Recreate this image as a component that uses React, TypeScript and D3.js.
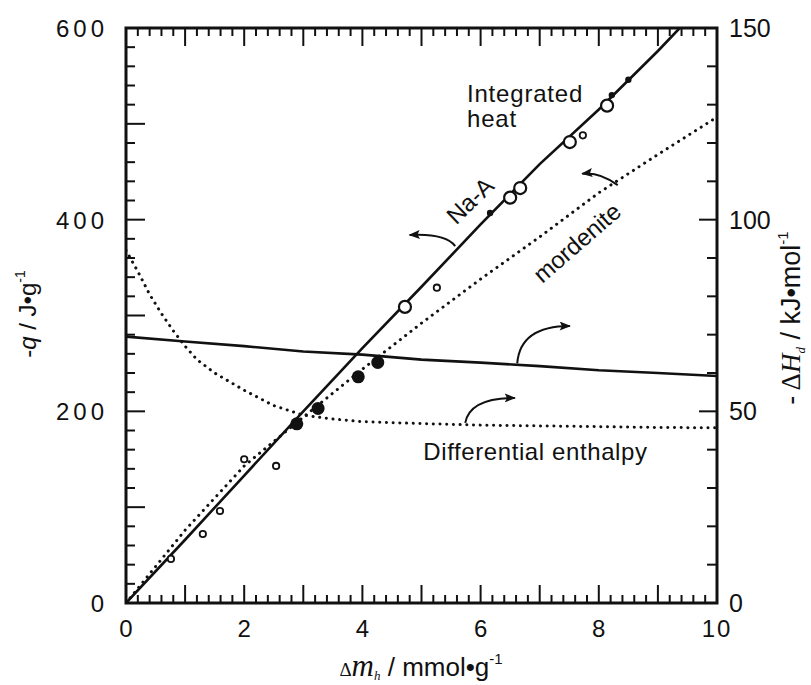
import React from 'react';
import * as d3 from 'd3';

// integrated heat, left axis (-q / J g-1)
const naAHeatX = [0, 1, 2, 3, 4, 5, 6, 7, 8, 9, 9.37];
const naAHeatY = [0, 66, 133, 200, 266, 330, 395, 458, 515, 576, 600];
const morHeatX = [0, 1, 2, 3, 4, 5, 6, 7, 8, 9, 10];
const morHeatY = [0, 76, 143, 194, 244, 292, 338, 382, 428, 468, 507];

// differential enthalpy, right axis (-dH / kJ mol-1)
const naADiffX = [0, 1, 2, 3, 4, 5, 6, 7, 8, 9, 10];
const naADiffY = [69.5, 68.2, 67, 65.6, 64.8, 63.5, 62.7, 61.8, 60.7, 60, 59.2];
const morDiffX = [0, 0.2, 0.4, 0.6, 0.8, 1, 1.2, 1.5, 2, 2.5, 3, 3.5, 4, 5, 6, 7, 8, 9, 10];
const morDiffY = [92, 86.5, 80.5, 75.5, 71, 67, 63.5, 60, 55.5, 51.5, 49, 48, 47.3, 46.8, 46.4, 46.2, 46, 45.8, 45.7];

// measured points
const naAOpenBig = [[4.72, 309], [6.5, 423], [6.67, 433], [7.51, 481], [8.14, 519]];
const naAFilledSmall = [[6.16, 407], [8.22, 530], [8.5, 546]];
const naAOpenSmall = [[5.26, 329], [7.73, 488]];
const morFilledBig = [[2.89, 187], [3.25, 203], [3.93, 236], [4.26, 251]];
const morOpenSmall = [[0.76, 46], [1.3, 72], [1.59, 96], [2.0, 150], [2.54, 143]];

// curved arrows [start, control, end] in x / left-axis units
const arrows = [
  [[5.57, 372.5], [5.4, 386], [4.8, 384]],
  [[8.32, 436], [8.02, 450], [7.72, 448]],
  [[6.62, 250], [6.67, 289], [7.51, 289]],
  [[5.74, 188], [5.82, 214], [6.58, 214]],
];

const xTicks = [0, 2, 4, 6, 8, 10];
const yTicks = [0, 200, 400, 600];
const y2Ticks = [0, 50, 100, 150];

const W = 811;
const H = 685;
const L = 126, R = 717, T = 28, B = 603;

export default function App() {
  const x = d3.scaleLinear().domain([0, 10]).range([L, R]);
  const y = d3.scaleLinear().domain([0, 600]).range([B, T]);
  const y2 = d3.scaleLinear().domain([0, 150]).range([B, T]);

  const lineL = (xs: number[], ys: number[]) =>
    d3.line<number>().x((d, i) => x(xs[i])).y((d) => y(d))(ys) || '';
  const lineR = (xs: number[], ys: number[]) =>
    d3.line<number>().x((d, i) => x(xs[i])).y((d) => y2(d))(ys) || '';

  const font = "'Liberation Sans', Arial, Helvetica, sans-serif";
  const serif = "'Liberation Serif', 'Times New Roman', serif";
  const dotted = { fill: 'none', stroke: '#111', strokeWidth: 3, strokeDasharray: '0.1 6.6', strokeLinecap: 'round' as const };

  const minorX = d3.range(0, 10.001, 0.2);
  const minorY = d3.range(0, 600.1, 20);
  const minorY2 = d3.range(0, 150.1, 10);
  const isInt = (v: number) => Math.abs(v - Math.round(v)) < 1e-6;

  return (
    <svg width={W} height={H} style={{ position: 'absolute', left: 0, top: 0, background: '#fff' }}>
      <defs>
        <marker id="ah" viewBox="0 0 10 8" refX="9" refY="4" markerWidth="12" markerHeight="9" markerUnits="userSpaceOnUse" orient="auto">
          <path d="M0,0 L10,4 L0,8 L2,4 z" fill="#111" />
        </marker>
        <clipPath id="clip">
          <rect x={L} y={T} width={R - L} height={B - T} />
        </clipPath>
      </defs>

      {/* ticks */}
      <g stroke="#111" strokeWidth={2}>
        {minorX.map((v, i) => {
          const len = isInt(v) ? 18 : 8;
          return (
            <g key={'x' + i}>
              <line x1={x(v)} x2={x(v)} y1={B} y2={B - len} />
              <line x1={x(v)} x2={x(v)} y1={T} y2={T + len} />
            </g>
          );
        })}
        {minorY.map((v, i) => {
          const len = v % 100 === 0 ? 19 : 9;
          return <line key={'y' + i} x1={L} x2={L + len} y1={y(v)} y2={y(v)} />;
        })}
        {minorY2.map((v, i) => {
          const len = v % 50 === 0 ? 18 : 10;
          return <line key={'r' + i} x1={R} x2={R - len} y1={y2(v)} y2={y2(v)} />;
        })}
      </g>

      <rect x={L} y={T} width={R - L} height={B - T} fill="none" stroke="#111" strokeWidth={3} />

      {/* tick labels */}
      <g fontFamily={font} fontSize={24} fill="#111">
        {xTicks.map((v) => (
          <text key={'xl' + v} x={x(v)} y={B + 34} textAnchor="middle" letterSpacing={v === 10 ? 2 : 0}>{v}</text>
        ))}
        {yTicks.map((v) => (
          <text key={'yl' + v} x={L - 18} y={y(v) + 9} textAnchor="end" letterSpacing={4}>{v}</text>
        ))}
        {y2Ticks.map((v) => (
          <text key={'rl' + v} x={R + 12} y={y2(v) + 9} textAnchor="start" fontSize={25}>{v}</text>
        ))}
      </g>

      <g clipPath="url(#clip)">
        <path d={lineL(naAHeatX, naAHeatY)} fill="none" stroke="#111" strokeWidth={2.6} />
        <path d={lineL(morHeatX, morHeatY)} {...dotted} />
        <path d={lineR(naADiffX, naADiffY)} fill="none" stroke="#111" strokeWidth={2.6} />
        <path d={lineR(morDiffX, morDiffY)} {...dotted} />
      </g>

      {/* points */}
      {naAOpenBig.map(([a, b], i) => (
        <circle key={'ob' + i} cx={x(a)} cy={y(b)} r={6} fill="#fff" stroke="#111" strokeWidth={2.2} />
      ))}
      {naAFilledSmall.map(([a, b], i) => (
        <circle key={'fs' + i} cx={x(a)} cy={y(b)} r={3.2} fill="#111" />
      ))}
      {[...naAOpenSmall, ...morOpenSmall].map(([a, b], i) => (
        <circle key={'os' + i} cx={x(a)} cy={y(b)} r={3.2} fill="#fff" stroke="#111" strokeWidth={1.8} />
      ))}
      {morFilledBig.map(([a, b], i) => (
        <circle key={'mb' + i} cx={x(a)} cy={y(b)} r={6.5} fill="#111" />
      ))}

      {/* arrows */}
      {arrows.map((a, i) => (
        <path
          key={'ar' + i}
          d={`M${x(a[0][0])},${y(a[0][1])} Q${x(a[1][0])},${y(a[1][1])} ${x(a[2][0])},${y(a[2][1])}`}
          fill="none"
          stroke="#111"
          strokeWidth={2}
          markerEnd="url(#ah)"
        />
      ))}

      {/* annotations */}
      <g fontFamily={font} fontSize={24} fill="#111">
        <text x={x(5.77)} y={y(523)} letterSpacing={0.8}>
          Integrated
          <tspan x={x(5.77)} dy={25}>heat</tspan>
        </text>
        <text transform={`translate(${x(5.82)},${y(420)}) rotate(-44)`} textAnchor="middle" dy="0.35em">Na-A</text>
        <text transform={`translate(${x(7.63)},${y(376)}) rotate(-41)`} textAnchor="middle" dy="0.35em">mordenite</text>
        <text x={x(5.03)} y={y(149)} letterSpacing={0.6}>Differential enthalpy</text>
      </g>

      {/* axis titles */}
      <text transform={`translate(36,314) rotate(-90)`} textAnchor="middle" fontFamily={font} fontSize={24} fill="#111">
        -<tspan fontStyle="italic">q</tspan> / J•g<tspan fontSize={14} dy={-11}>-1</tspan>
      </text>
      <text transform={`translate(800,318) rotate(-90)`} textAnchor="middle" fontFamily={font} fontSize={27} fill="#111">
        -<tspan fontFamily={serif}> Δ</tspan>
        <tspan fontFamily={serif} fontStyle="italic">H</tspan>
        <tspan fontFamily={serif} fontStyle="italic" fontSize={13} dy={5}>d</tspan>
        <tspan dy={-5}> / kJ•mol</tspan>
        <tspan fontSize={15} dy={-12}>-1</tspan>
      </text>
      <text x={421} y={676} textAnchor="middle" fontFamily={font} fontSize={26} fill="#111">
        <tspan fontFamily={serif} fontSize={19}>Δ</tspan>
        <tspan fontFamily={serif} fontStyle="italic" fontSize={31}>m</tspan>
        <tspan fontFamily={serif} fontStyle="italic" fontSize={13} dy={4}>h</tspan>
        <tspan dy={-4}> / mmol•g</tspan>
        <tspan fontSize={15} dy={-12}>-1</tspan>
      </text>
    </svg>
  );
}
